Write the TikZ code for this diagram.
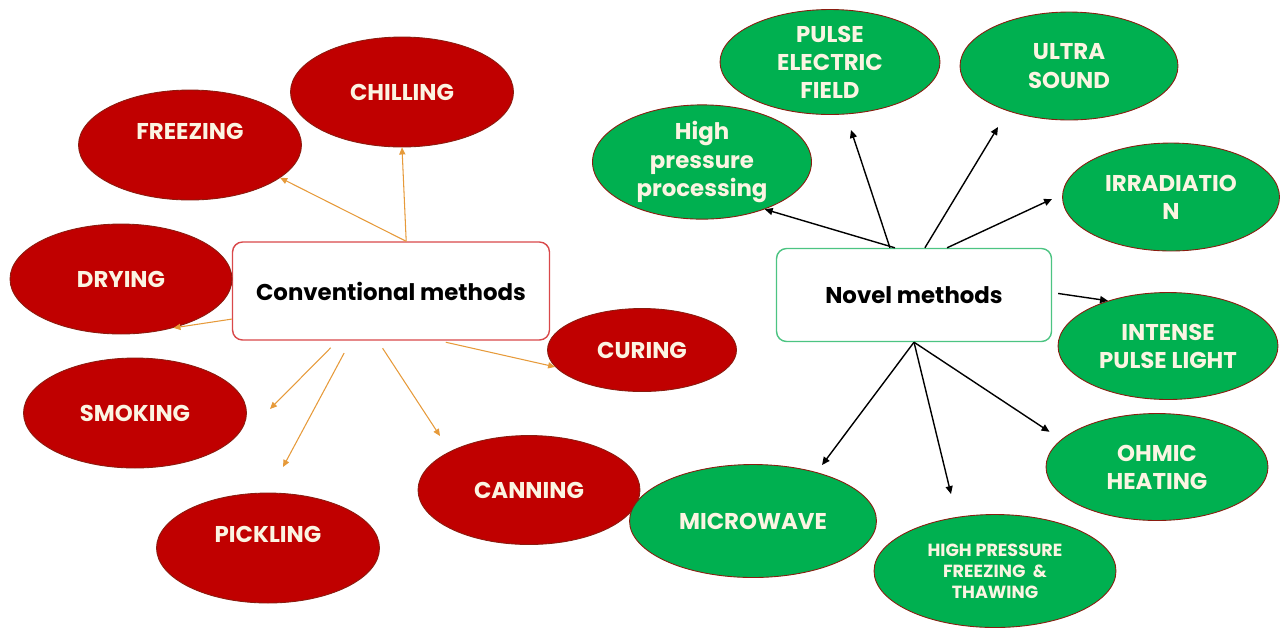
\documentclass[tikz,border=0pt]{standalone}
\usepackage{fontspec}
\setmainfont{Poppins}
\usepackage{tikz}
\usetikzlibrary{arrows.meta,shapes.geometric,calc}

\definecolor{methred}{HTML}{C00000}
\definecolor{methgreen}{HTML}{00B050}
\definecolor{rimred}{HTML}{8A1C10}
\definecolor{cream}{HTML}{FBF4E2}
\definecolor{convline}{HTML}{D9484A}
\definecolor{novline}{HTML}{4CC482}
\definecolor{orangearr}{HTML}{E69A3A}

\begin{document}
\begin{tikzpicture}[
    x=0.02cm, y=-0.02cm,
    hub/.style={rectangle, rounded corners=0.2cm, fill=white, line width=0.8pt, font=\fontsize{13}{16}\selectfont\bfseries},
    oldmeth/.style={ellipse, fill=methred, draw=rimred, line width=0.5pt, inner sep=0pt, text=cream, align=center, font=\fontsize{13}{16}\selectfont\bfseries, minimum width=4.46cm, minimum height=2.2cm},
    newmeth/.style={ellipse, fill=methgreen, draw=rimred, line width=0.5pt, inner sep=0pt, text=cream, align=center, font=\fontsize{13}{16}\selectfont\bfseries, minimum width=4.4cm, minimum height=2.14cm},
    raised/.style={text depth=0.56cm},
    carrow/.style={-{Triangle[length=4pt,width=3.5pt]}, orangearr, line width=0.6pt},
    narrow/.style={-{Triangle[length=4.5pt,width=4pt]}, black, line width=0.8pt}
]
\useasboundingbox (0,0) rectangle (1280,630);

% Hubs
\node[hub, draw=convline, minimum width=6.34cm, minimum height=1.96cm] (conv) at (391,291) {Conventional methods};
\node[hub, draw=novline, minimum width=5.5cm, minimum height=1.86cm] (novel) at (914,295) {Novel methods};

% Conventional methods
\node[oldmeth] (chill) at (402,92) {CHILLING};
\node[oldmeth, raised] (freeze) at (190,145) {FREEZING};
\node[oldmeth, minimum width=4.44cm] (dry) at (121,279) {DRYING};
\node[oldmeth] (smoke) at (135,413) {SMOKING};
\node[oldmeth, raised] (pickle) at (268,548) {PICKLING};
\node[oldmeth, minimum width=4.44cm, minimum height=2.18cm] (can) at (529,490) {CANNING};
\node[oldmeth, minimum width=3.78cm, minimum height=1.66cm] (cure) at (642,350) {CURING};

% Novel methods
\node[newmeth, minimum width=4.38cm, minimum height=2.1cm] (hpp) at (702,162) {High\\pressure\\processing};
\node[newmeth, minimum height=2.1cm] (pef) at (830,62) {PULSE\\ELECTRIC\\FIELD};
\node[newmeth, minimum width=4.36cm, minimum height=2.16cm] (us) at (1069,66) {ULTRA\\SOUND};
\node[newmeth, minimum width=4.34cm, minimum height=2.16cm] (irr) at (1171,197) {IRRADIATIO\\N};
\node[newmeth] (ipl) at (1168,346) {INTENSE\\PULSE LIGHT};
\node[newmeth, minimum width=4.44cm] (ohm) at (1157,467) {OHMIC\\HEATING};
\node[newmeth, minimum width=4.84cm, minimum height=2.26cm, font=\fontsize{10}{12}\selectfont\bfseries] (hpft) at (995,571) {HIGH PRESSURE\\FREEZING~~\&\\THAWING};
\node[newmeth, minimum width=4.94cm, minimum height=2.26cm] (mw) at (753,521) {MICROWAVE};

% Free arrow ends
\coordinate (tsmoke) at (270,409);
\coordinate (tpickle) at (283,467);
\coordinate (tcan) at (440,436);
\coordinate (tpef) at (851,130);
\coordinate (tus) at (998,127);
\coordinate (tirr) at (1052,199);
\coordinate (thpft) at (951,494);
\coordinate (tmw) at (822,465);

% Conventional arrows
\draw[carrow] (conv.73) -- (chill.south);
\draw[carrow] (conv.73) -- (freeze.-20);
\draw[carrow] (conv.190) -- (dry.-43);
\draw[carrow, shorten <=0.2cm] (conv.223) -- (tsmoke);
\draw[carrow, shorten <=0.28cm] (conv.231) -- (tpickle);
\draw[carrow, shorten <=0.18cm] (conv.255) -- (tcan);
\draw[carrow, shorten <=0.14cm] (conv.-46) -- (cure.191);

% Novel arrows
\draw[narrow] (novel.112) -- (hpp.-37);
\draw[narrow] (novel.117) -- (tpef);
\draw[narrow] (novel.77) -- (tus);
\draw[narrow] (novel.55) -- (tirr);
\draw[narrow, shorten <=0.12cm] (novel.1) -- (ipl.143);
\draw[narrow, shorten >=0.28cm] (novel.south) -- (ohm.164);
\draw[narrow] (novel.south) -- (thpft);
\draw[narrow] (novel.south) -- (tmw);

\end{tikzpicture}
\end{document}
